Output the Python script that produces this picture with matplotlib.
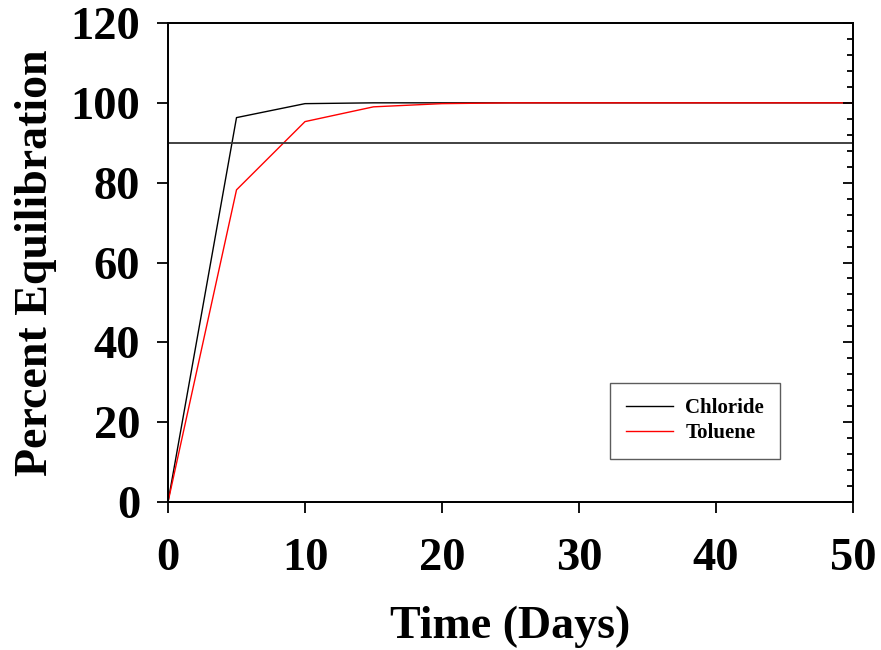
import matplotlib.pyplot as plt
from matplotlib.ticker import MultipleLocator

days = [0, 5, 10, 15, 20, 25, 30, 35, 40, 45, 50]
chloride = [0, 96.3, 99.8, 100, 100, 100, 100, 100, 100, 100, 100]
toluene = [0, 78.2, 95.3, 99.0, 99.8, 100, 100, 100, 100, 100, 100]
threshold = 90

plt.rcParams['font.family'] = ['Liberation Serif', 'DejaVu Serif']
plt.rcParams['font.weight'] = 'bold'

fig = plt.figure(figsize=(8.81, 6.5), dpi=100)
ax = fig.add_axes([0.1907, 0.2277, 0.7775, 0.7369])

ax.plot(days, chloride, color='black', lw=1.0, label='Chloride')
ax.plot(days, toluene, color='red', lw=1.0, label='Toluene')
ax.axhline(threshold, color='#333333', lw=1.3)

ax.set_xlim(0, 50)
ax.set_ylim(0, 120)
ax.xaxis.set_major_locator(MultipleLocator(10))
ax.yaxis.set_major_locator(MultipleLocator(20))

for s in ax.spines.values():
    s.set_linewidth(1.3)

ax.tick_params(axis='x', direction='out', length=8, width=1.3, labelsize=33.5, pad=18, top=False)
ax.tick_params(axis='y', direction='out', length=8, width=1.3, labelsize=33.5, pad=12, right=False)
for lab in ax.get_xticklabels() + ax.get_yticklabels():
    lab.set_fontweight('bold')

# right axis with inward ticks
ax2 = ax.twinx()
ax2.set_ylim(0, 120)
ax2.yaxis.set_major_locator(MultipleLocator(20))
ax2.yaxis.set_minor_locator(MultipleLocator(4))
ax2.tick_params(axis='y', which='major', direction='in', length=7, width=1.3, labelright=False)
ax2.tick_params(axis='y', which='minor', direction='in', length=4, width=1.3)
for s in ax2.spines.values():
    s.set_linewidth(1.3)

ax.set_xlabel('Time (Days)', fontsize=33, fontweight='bold', labelpad=18)
ax.set_ylabel('Percent Equilibration', fontsize=33, fontweight='bold', labelpad=10)

leg = ax.legend(loc='lower right', bbox_to_anchor=(0.893, 0.0898),
                prop={'weight': 'bold', 'size': 15}, frameon=True, fancybox=False,
                edgecolor='#333333', handlelength=2.25, handletextpad=0.6,
                borderpad=0.75, labelspacing=0.25, borderaxespad=0)
leg.get_frame().set_linewidth(1.0)

fig.savefig('out.png', dpi=100)
